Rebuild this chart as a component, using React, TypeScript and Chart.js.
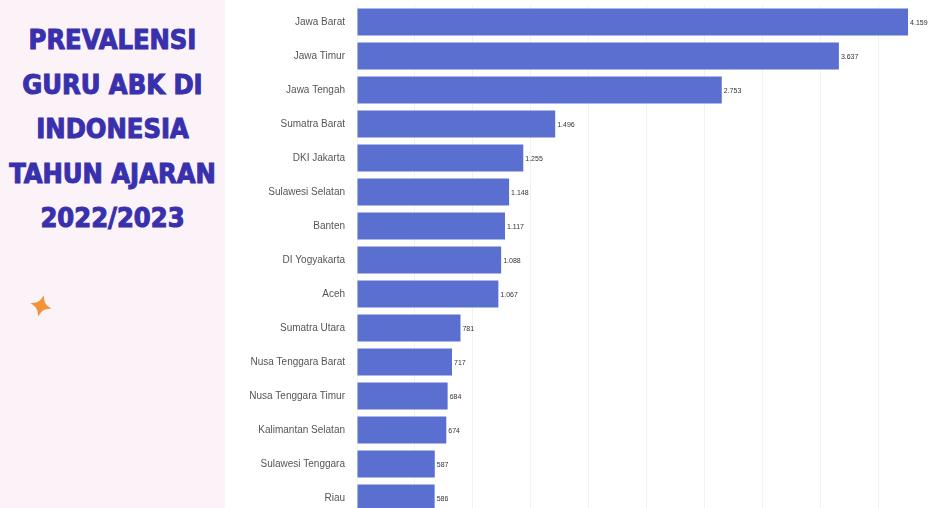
import React, { useEffect, useRef } from "react";
import { Chart, registerables } from "chart.js";

Chart.register(...registerables);

const provinces = [
  "Jawa Barat",
  "Jawa Timur",
  "Jawa Tengah",
  "Sumatra Barat",
  "DKI Jakarta",
  "Sulawesi Selatan",
  "Banten",
  "DI Yogyakarta",
  "Aceh",
  "Sumatra Utara",
  "Nusa Tenggara Barat",
  "Nusa Tenggara Timur",
  "Kalimantan Selatan",
  "Sulawesi Tenggara",
  "Riau",
];

const teachers = [4159, 3637, 2753, 1496, 1255, 1148, 1117, 1088, 1067, 781, 717, 684, 674, 587, 586];

const titleLines = ["PREVALENSI", "GURU ABK DI", "INDONESIA", "TAHUN AJARAN", "2022/2023"];

const fmt = (v: number) => v.toLocaleString("id-ID");

const valueLabels = {
  id: "valueLabels",
  afterDatasetsDraw(chart: any) {
    const ctx = chart.ctx;
    const meta = chart.getDatasetMeta(0);
    ctx.save();
    ctx.font = "7px 'Liberation Sans', Arial, sans-serif";
    ctx.fillStyle = "#333";
    ctx.textBaseline = "middle";
    ctx.textAlign = "left";
    meta.data.forEach((bar: any, i: number) => {
      ctx.fillText(fmt(teachers[i]), bar.x + 2, bar.y + 1);
    });
    ctx.restore();
  },
};

function Star() {
  return (
    <svg width="28" height="28" viewBox="-14 -14 28 28" style={{ position: "absolute", left: 27, top: 292 }}>
      <path
        d="M0,-11 C2,-4 4,-2 11,0 C4,2 2,4 0,11 C-2,4 -4,2 -11,0 C-4,-2 -2,-4 0,-11 Z"
        fill="#f5913a"
        transform="rotate(15)"
      />
    </svg>
  );
}

export default function App() {
  const ref = useRef<HTMLCanvasElement | null>(null);

  useEffect(() => {
    if (!ref.current) return;
    const chart = new Chart(ref.current, {
      type: "bar",
      data: {
        labels: provinces,
        datasets: [
          {
            data: teachers,
            backgroundColor: "#5a6fd0",
            borderWidth: 0,
            barPercentage: 0.8,
            categoryPercentage: 1,
          },
        ],
      },
      options: {
        indexAxis: "y",
        animation: false,
        responsive: false,
        maintainAspectRatio: false,
        layout: { autoPadding: false, padding: { top: 5, right: 0, bottom: 0, left: 0 } },
        plugins: { legend: { display: false }, tooltip: { enabled: false } },
        scales: {
          x: {
            min: 0,
            max: 4370,
            ticks: { display: false, stepSize: 453 },
            grid: { color: "#f2f2f2", drawTicks: false },
            border: { display: false },
            afterFit: (s: any) => {
              s.height = 0;
            },
          },
          y: {
            ticks: {
              color: "#555",
              padding: 4,
              font: { size: 10, family: "'Liberation Sans', Arial, sans-serif" },
            },
            grid: { display: false },
            border: { display: false },
            afterFit: (s: any) => {
              s.width = 132;
            },
          },
        },
      },
      plugins: [valueLabels],
    });
    return () => chart.destroy();
  }, []);

  return (
    <div style={{ position: "fixed", left: 0, top: 0, width: 936, height: 508, overflow: "hidden", background: "#fff" }}>
      <div style={{ position: "absolute", left: 0, top: 0, width: 225, height: 508, background: "#fcf3f8" }}>
        <div
          style={{
            position: "absolute",
            left: 0,
            top: 18,
            width: 225,
            textAlign: "center",
            fontFamily: "'DejaVu Sans Condensed', 'DejaVu Sans', sans-serif",
            fontWeight: 700,
            fontSize: 27,
            lineHeight: "44.5px",
            color: "#3830ad",
            WebkitTextStroke: "1px #3830ad",
          }}
        >
          {titleLines.map((t) => (
            <div key={t}>{t}</div>
          ))}
        </div>
        <Star />
      </div>
      <canvas ref={ref} width={711} height={530} style={{ position: "absolute", left: 225, top: -5 }} />
    </div>
  );
}
